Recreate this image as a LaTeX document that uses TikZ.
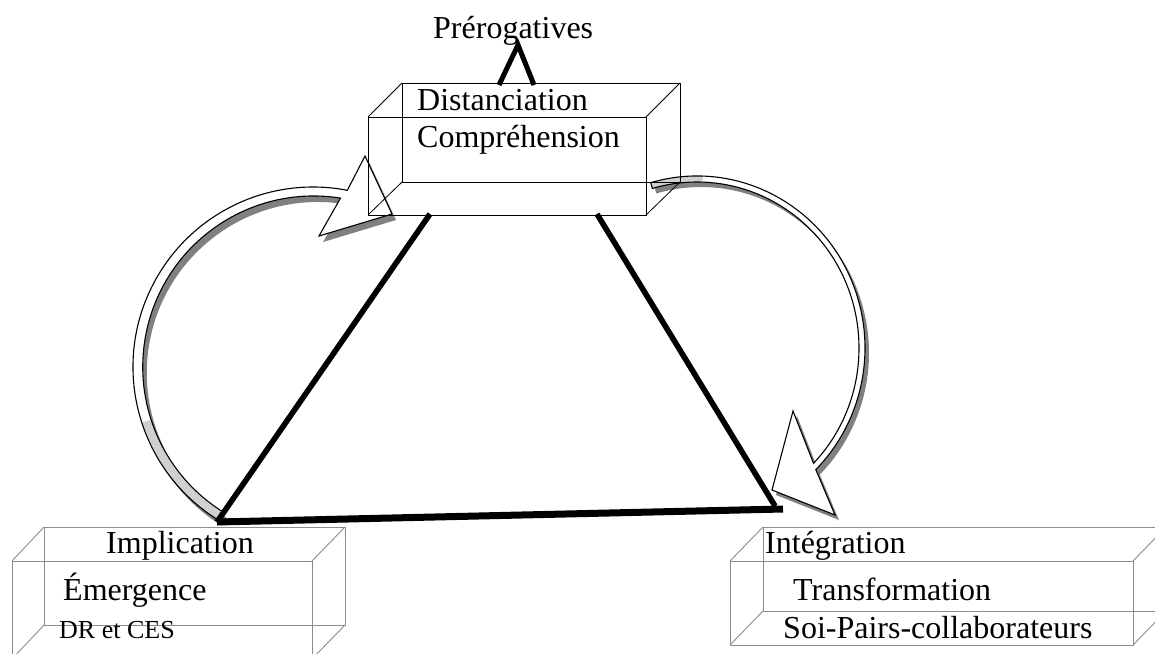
\documentclass[tikz,border=0pt]{standalone}
\usepackage{fontspec}
\setmainfont{Liberation Serif}
\definecolor{shadowgray}{HTML}{808080}
\definecolor{undergray}{HTML}{D0D0D0}
\definecolor{edgegray}{HTML}{8C8C8C}

% outlines of the two curved block arrows (pixel units, y downwards)
\def\leftarrowpath{(217.61,519.65) arc[start angle=122, end angle=281, radius=180]
  -- (365,156) -- (392,214) -- (319,236) -- (340.5,198.1)
  arc[start angle=279, end angle=122, radius=171] -- cycle}
\def\leftunderpath{(217.61,519.65) arc[start angle=122, end angle=162, radius=180]
  -- (150.37,419.84) arc[start angle=162, end angle=122, radius=171] -- cycle}
\def\rightarrowpath{(650.69,182.66) arc[start angle=254, end angle=405, x radius=168, y radius=172]
  -- (835,515) -- (772,490) -- (793,411) -- (813.53,463.31)
  arc[start angle=44, end angle=-106, x radius=162, y radius=166] -- cycle}
\def\rightunderpath{(650.69,182.66) arc[start angle=254, end angle=272, x radius=168, y radius=172]
  -- (702.65,182.1) arc[start angle=272, end angle=254, x radius=162, y radius=166] -- cycle}

\begin{document}
\begin{tikzpicture}[x=1pt,y=-1pt,
  lbl/.style={inner sep=0pt, anchor=base west, font=\fontsize{32}{38}\selectfont},
  smalllbl/.style={lbl, font=\fontsize{26}{31}\selectfont},
  boxedge/.style={line width=0.8pt, draw=black},
  greyedge/.style={line width=0.9pt, draw=edgegray},
  leg/.style={line width=5.6pt, draw=black, line join=miter},
  baseline/.style={line width=7pt, draw=black},
  caret/.style={line width=5pt, draw=black, line join=miter},
  bandline/.style={draw=black, line width=1.1pt, line join=miter},
  arrowshadow/.style={fill=shadowgray},
]
\useasboundingbox (0,0) rectangle (1155,653);
\clip (0,0) rectangle (1155,653);

% ---- curved block arrows with drop shadows ----
\begin{scope}[shift={(4,6)}]
  \fill[arrowshadow] \leftarrowpath;
\end{scope}
\fill[white] \leftarrowpath;
\fill[undergray] \leftunderpath;
\draw[bandline] \leftarrowpath;

\begin{scope}[shift={(4,5)}]
  \fill[arrowshadow] \rightarrowpath;
\end{scope}
\fill[white] \rightarrowpath;
\fill[undergray] \rightunderpath;
\draw[bandline] \rightarrowpath;

% ---- triangle ----
\coordinate (topL) at (430,214);
\coordinate (topR) at (597,214);
\coordinate (botL) at (217,522);
\coordinate (botR) at (783,509);
\coordinate (legR) at (775,506);
\draw[leg] (topL) -- (botL);
\draw[baseline] (botL) -- (botR);
\draw[leg] (topR) -- (legR);

% ---- top box ----
\draw[boxedge] (368,117) rectangle (646,215);
\draw[boxedge] (402,83) rectangle (680,182);
\draw[boxedge] (368,117) -- (402,83) (646,117) -- (680,83)
               (646,215) -- (680,182) (368,215) -- (402,182);

% ---- bottom left box ----
\draw[greyedge] (12,561) rectangle (312,659);
\draw[greyedge] (44,527) rectangle (345,625);
\draw[greyedge] (12,561) -- (44,527) (312,561) -- (345,527)
                (312,659) -- (345,625) (12,659) -- (44,625);

% ---- bottom right box ----
\draw[greyedge] (730,561) rectangle (1133,645);
\draw[greyedge] (763,527) rectangle (1166,611);
\draw[greyedge] (730,561) -- (763,527) (1133,561) -- (1166,527)
                (1133,645) -- (1166,611) (730,645) -- (763,611);

% ---- labels ----
\node[lbl] (prerog) at (433,38) {Prérogatives};
\node[lbl] (dist)   at (417,110) {Distanciation};
\node[lbl] (compr)  at (417,147) {Compréhension};
\node[lbl] (impl)   at (106,553) {Implication};
\node[lbl] (emerg)  at (63,600) {Émergence};
\node[smalllbl] (drces) at (59,638) {DR et CES};
\node[lbl] (integ)  at (765,553) {Intégration};
\node[lbl] (transf) at (793,600) {Transformation};
\node[lbl] (soi)    at (783,638) {Soi-Pairs-collaborateurs};

% ---- caret linking the top box to its label ----
\coordinate (caretL) at (499,85);
\coordinate (caretT) at (518,45);
\coordinate (caretR) at (534,85);
\draw[caret] (caretL) -- (caretT) -- (caretR);
\end{tikzpicture}
\end{document}
